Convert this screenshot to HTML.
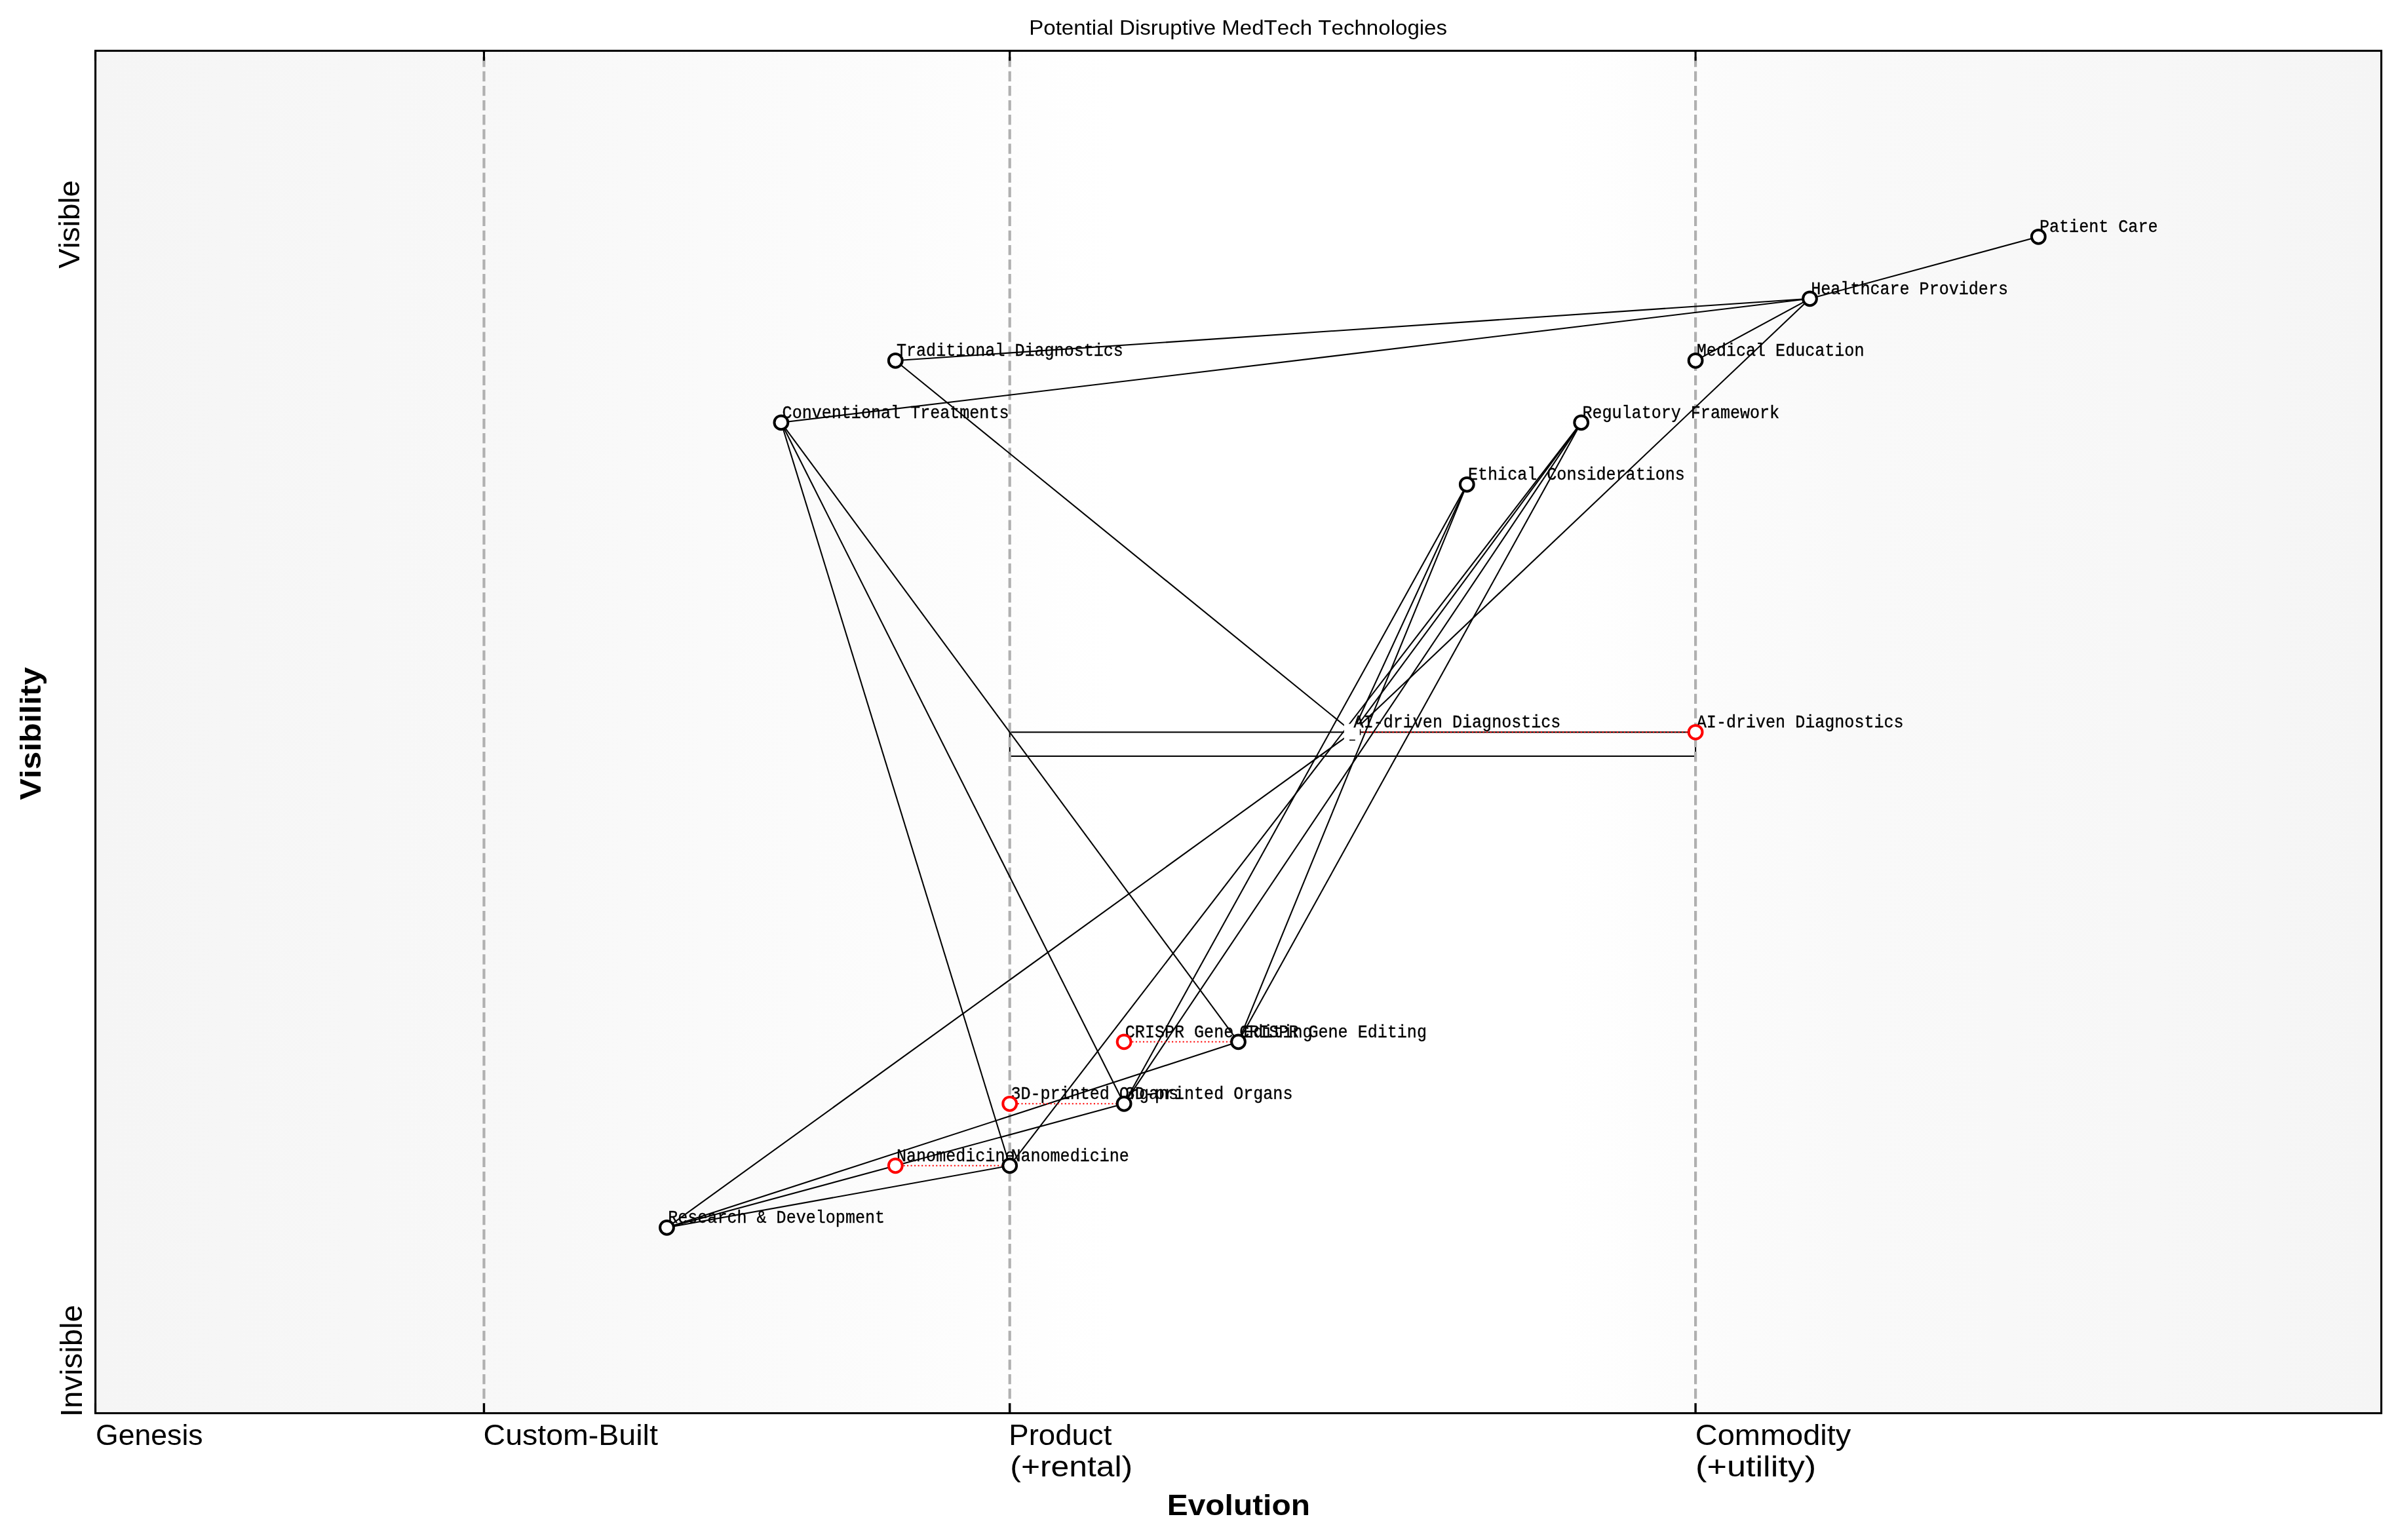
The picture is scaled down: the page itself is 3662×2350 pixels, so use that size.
<!DOCTYPE html><html><head><meta charset="utf-8"><style>html,body{margin:0;padding:0;background:#fff;width:3662px;height:2350px;overflow:hidden}svg{display:block;will-change:transform}text{font-kerning:none}</style></head><body>
<svg width="3662" height="2350" viewBox="0 0 3662 2350">
<defs><linearGradient id="bg" x1="0" y1="0" x2="1" y2="0">
<stop offset="0.000" stop-color="rgb(244.5,244.5,244.5)"/>
<stop offset="0.115" stop-color="rgb(246.5,246.5,246.5)"/>
<stop offset="0.200" stop-color="rgb(248.0,248.0,248.0)"/>
<stop offset="0.267" stop-color="rgb(250.0,250.0,250.0)"/>
<stop offset="0.352" stop-color="rgb(252.0,252.0,252.0)"/>
<stop offset="0.446" stop-color="rgb(254.5,254.5,254.5)"/>
<stop offset="0.500" stop-color="rgb(255.0,255.0,255.0)"/>
<stop offset="0.640" stop-color="rgb(255.0,255.0,255.0)"/>
<stop offset="0.676" stop-color="rgb(253.0,253.0,253.0)"/>
<stop offset="0.720" stop-color="rgb(251.0,251.0,251.0)"/>
<stop offset="0.769" stop-color="rgb(249.0,249.0,249.0)"/>
<stop offset="0.900" stop-color="rgb(246.5,246.5,246.5)"/>
<stop offset="1.000" stop-color="rgb(245.0,245.0,245.0)"/>
</linearGradient></defs>
<rect x="0" y="0" width="3662" height="2350" fill="#fff"/>
<rect x="145.60" y="77.50" width="3487.90" height="2079.00" fill="url(#bg)"/>
<rect x="1540.70" y="1117.30" width="1046.40" height="36.60" fill="none" stroke="#000" stroke-width="2.08"/>
<line x1="738.46" y1="2156.50" x2="738.46" y2="77.50" stroke="#b0b0b0" stroke-width="4.17" stroke-dasharray="15.42 6.67"/>
<line x1="1540.70" y1="2156.50" x2="1540.70" y2="77.50" stroke="#b0b0b0" stroke-width="4.17" stroke-dasharray="15.42 6.67"/>
<line x1="2587.10" y1="2156.50" x2="2587.10" y2="77.50" stroke="#b0b0b0" stroke-width="4.17" stroke-dasharray="15.42 6.67"/>
<text transform="matrix(1,0,0,1.0750,3112.00,354.30)" font-family="Liberation Mono" font-size="25.08" fill="#fff" stroke="#fff" stroke-width="1.6" stroke-linejoin="round">Patient Care</text>
<text transform="matrix(1,0,0,1.0750,2763.20,448.80)" font-family="Liberation Mono" font-size="25.08" fill="#fff" stroke="#fff" stroke-width="1.6" stroke-linejoin="round">Healthcare Providers</text>
<text transform="matrix(1,0,0,1.0750,2588.80,543.30)" font-family="Liberation Mono" font-size="25.08" fill="#fff" stroke="#fff" stroke-width="1.6" stroke-linejoin="round">Medical Education</text>
<text transform="matrix(1,0,0,1.0750,1368.00,543.30)" font-family="Liberation Mono" font-size="25.08" fill="#fff" stroke="#fff" stroke-width="1.6" stroke-linejoin="round">Traditional Diagnostics</text>
<text transform="matrix(1,0,0,1.0750,1193.60,637.80)" font-family="Liberation Mono" font-size="25.08" fill="#fff" stroke="#fff" stroke-width="1.6" stroke-linejoin="round">Conventional Treatments</text>
<text transform="matrix(1,0,0,1.0750,2414.40,637.80)" font-family="Liberation Mono" font-size="25.08" fill="#fff" stroke="#fff" stroke-width="1.6" stroke-linejoin="round">Regulatory Framework</text>
<text transform="matrix(1,0,0,1.0750,2240.00,732.30)" font-family="Liberation Mono" font-size="25.08" fill="#fff" stroke="#fff" stroke-width="1.6" stroke-linejoin="round">Ethical Considerations</text>
<text transform="matrix(1,0,0,1.0750,2065.60,1110.30)" font-family="Liberation Mono" font-size="25.08" fill="#fff" stroke="#fff" stroke-width="1.6" stroke-linejoin="round">AI-driven Diagnostics</text>
<text transform="matrix(1,0,0,1.0750,1891.20,1582.80)" font-family="Liberation Mono" font-size="25.08" fill="#fff" stroke="#fff" stroke-width="1.6" stroke-linejoin="round">CRISPR Gene Editing</text>
<text transform="matrix(1,0,0,1.0750,1716.80,1677.30)" font-family="Liberation Mono" font-size="25.08" fill="#fff" stroke="#fff" stroke-width="1.6" stroke-linejoin="round">3D-printed Organs</text>
<text transform="matrix(1,0,0,1.0750,1542.40,1771.80)" font-family="Liberation Mono" font-size="25.08" fill="#fff" stroke="#fff" stroke-width="1.6" stroke-linejoin="round">Nanomedicine</text>
<text transform="matrix(1,0,0,1.0750,1019.20,1866.30)" font-family="Liberation Mono" font-size="25.08" fill="#fff" stroke="#fff" stroke-width="1.6" stroke-linejoin="round">Research &amp; Development</text>
<text transform="matrix(1,0,0,1.0750,2588.80,1110.30)" font-family="Liberation Mono" font-size="25.08" fill="#fff" stroke="#fff" stroke-width="1.6" stroke-linejoin="round">AI-driven Diagnostics</text>
<text transform="matrix(1,0,0,1.0750,1716.80,1582.80)" font-family="Liberation Mono" font-size="25.08" fill="#fff" stroke="#fff" stroke-width="1.6" stroke-linejoin="round">CRISPR Gene Editing</text>
<text transform="matrix(1,0,0,1.0750,1542.40,1677.30)" font-family="Liberation Mono" font-size="25.08" fill="#fff" stroke="#fff" stroke-width="1.6" stroke-linejoin="round">3D-printed Organs</text>
<text transform="matrix(1,0,0,1.0750,1368.00,1771.80)" font-family="Liberation Mono" font-size="25.08" fill="#fff" stroke="#fff" stroke-width="1.6" stroke-linejoin="round">Nanomedicine</text>
<text transform="matrix(1,0,0,1.0750,3112.00,354.30)" font-family="Liberation Mono" font-size="25.08" fill="#000" stroke="#000" stroke-width="0.35">Patient Care</text>
<text transform="matrix(1,0,0,1.0750,2763.20,448.80)" font-family="Liberation Mono" font-size="25.08" fill="#000" stroke="#000" stroke-width="0.35">Healthcare Providers</text>
<text transform="matrix(1,0,0,1.0750,2588.80,543.30)" font-family="Liberation Mono" font-size="25.08" fill="#000" stroke="#000" stroke-width="0.35">Medical Education</text>
<text transform="matrix(1,0,0,1.0750,1368.00,543.30)" font-family="Liberation Mono" font-size="25.08" fill="#000" stroke="#000" stroke-width="0.35">Traditional Diagnostics</text>
<text transform="matrix(1,0,0,1.0750,1193.60,637.80)" font-family="Liberation Mono" font-size="25.08" fill="#000" stroke="#000" stroke-width="0.35">Conventional Treatments</text>
<text transform="matrix(1,0,0,1.0750,2414.40,637.80)" font-family="Liberation Mono" font-size="25.08" fill="#000" stroke="#000" stroke-width="0.35">Regulatory Framework</text>
<text transform="matrix(1,0,0,1.0750,2240.00,732.30)" font-family="Liberation Mono" font-size="25.08" fill="#000" stroke="#000" stroke-width="0.35">Ethical Considerations</text>
<text transform="matrix(1,0,0,1.0750,2065.60,1110.30)" font-family="Liberation Mono" font-size="25.08" fill="#000" stroke="#000" stroke-width="0.35">AI-driven Diagnostics</text>
<text transform="matrix(1,0,0,1.0750,1891.20,1582.80)" font-family="Liberation Mono" font-size="25.08" fill="#000" stroke="#000" stroke-width="0.35">CRISPR Gene Editing</text>
<text transform="matrix(1,0,0,1.0750,1716.80,1677.30)" font-family="Liberation Mono" font-size="25.08" fill="#000" stroke="#000" stroke-width="0.35">3D-printed Organs</text>
<text transform="matrix(1,0,0,1.0750,1542.40,1771.80)" font-family="Liberation Mono" font-size="25.08" fill="#000" stroke="#000" stroke-width="0.35">Nanomedicine</text>
<text transform="matrix(1,0,0,1.0750,1019.20,1866.30)" font-family="Liberation Mono" font-size="25.08" fill="#000" stroke="#000" stroke-width="0.35">Research &amp; Development</text>
<text transform="matrix(1,0,0,1.0750,2588.80,1110.30)" font-family="Liberation Mono" font-size="25.08" fill="#000" stroke="#000" stroke-width="0.35">AI-driven Diagnostics</text>
<text transform="matrix(1,0,0,1.0750,1716.80,1582.80)" font-family="Liberation Mono" font-size="25.08" fill="#000" stroke="#000" stroke-width="0.35">CRISPR Gene Editing</text>
<text transform="matrix(1,0,0,1.0750,1542.40,1677.30)" font-family="Liberation Mono" font-size="25.08" fill="#000" stroke="#000" stroke-width="0.35">3D-printed Organs</text>
<text transform="matrix(1,0,0,1.0750,1368.00,1771.80)" font-family="Liberation Mono" font-size="25.08" fill="#000" stroke="#000" stroke-width="0.35">Nanomedicine</text>
<line x1="3110.30" y1="361.30" x2="2761.50" y2="455.80" stroke="#000" stroke-width="2.08"/>
<line x1="2761.50" y1="455.80" x2="1366.30" y2="550.30" stroke="#000" stroke-width="2.08"/>
<line x1="2761.50" y1="455.80" x2="1191.90" y2="644.80" stroke="#000" stroke-width="2.08"/>
<line x1="2761.50" y1="455.80" x2="2587.10" y2="550.30" stroke="#000" stroke-width="2.08"/>
<line x1="2761.50" y1="455.80" x2="2063.90" y2="1117.30" stroke="#000" stroke-width="2.08"/>
<line x1="1366.30" y1="550.30" x2="2063.90" y2="1117.30" stroke="#000" stroke-width="2.08"/>
<line x1="1191.90" y1="644.80" x2="1540.70" y2="1778.80" stroke="#000" stroke-width="2.08"/>
<line x1="1191.90" y1="644.80" x2="1715.10" y2="1684.30" stroke="#000" stroke-width="2.08"/>
<line x1="1191.90" y1="644.80" x2="1889.50" y2="1589.80" stroke="#000" stroke-width="2.08"/>
<line x1="2412.70" y1="644.80" x2="1889.50" y2="1589.80" stroke="#000" stroke-width="2.08"/>
<line x1="2412.70" y1="644.80" x2="1715.10" y2="1684.30" stroke="#000" stroke-width="2.08"/>
<line x1="2412.70" y1="644.80" x2="1540.70" y2="1778.80" stroke="#000" stroke-width="2.08"/>
<line x1="2412.70" y1="644.80" x2="2063.90" y2="1117.30" stroke="#000" stroke-width="2.08"/>
<line x1="2238.30" y1="739.30" x2="2063.90" y2="1117.30" stroke="#000" stroke-width="2.08"/>
<line x1="2238.30" y1="739.30" x2="1889.50" y2="1589.80" stroke="#000" stroke-width="2.08"/>
<line x1="2238.30" y1="739.30" x2="1715.10" y2="1684.30" stroke="#000" stroke-width="2.08"/>
<line x1="1017.50" y1="1873.30" x2="2063.90" y2="1117.30" stroke="#000" stroke-width="2.08"/>
<line x1="1017.50" y1="1873.30" x2="1889.50" y2="1589.80" stroke="#000" stroke-width="2.08"/>
<line x1="1017.50" y1="1873.30" x2="1715.10" y2="1684.30" stroke="#000" stroke-width="2.08"/>
<line x1="1017.50" y1="1873.30" x2="1540.70" y2="1778.80" stroke="#000" stroke-width="2.08"/>
<line x1="2063.90" y1="1117.30" x2="2587.10" y2="1117.30" stroke="#ff0000" stroke-width="2.08" stroke-dasharray="2.08 3.44"/>
<line x1="1889.50" y1="1589.80" x2="1715.10" y2="1589.80" stroke="#ff0000" stroke-width="2.08" stroke-dasharray="2.08 3.44"/>
<line x1="1715.10" y1="1684.30" x2="1540.70" y2="1684.30" stroke="#ff0000" stroke-width="2.08" stroke-dasharray="2.08 3.44"/>
<line x1="1540.70" y1="1778.80" x2="1366.30" y2="1778.80" stroke="#ff0000" stroke-width="2.08" stroke-dasharray="2.08 3.44"/>
<rect x="2050.8" y="1104.6" width="24.7" height="25.0" fill="#fff"/>
<rect x="2059" y="1128.6" width="8.8" height="1.6" fill="#000"/>
<rect x="2074.8" y="1112.7" width="1.5" height="9.1" fill="#000"/>
<clipPath id="cp"><rect x="2050.8" y="1104.6" width="24.7" height="25.0"/></clipPath>
<g clip-path="url(#cp)">
<text transform="matrix(1,0,0,1.0750,2065.60,1110.30)" font-family="Liberation Mono" font-size="25.08" fill="#000" stroke="#000" stroke-width="0.35">AI-driven Diagnostics</text>
</g>
<circle cx="3110.30" cy="361.30" r="10.40" fill="#fff" stroke="#000" stroke-width="4.00"/>
<circle cx="2761.50" cy="455.80" r="10.40" fill="#fff" stroke="#000" stroke-width="4.00"/>
<circle cx="2587.10" cy="550.30" r="10.40" fill="#fff" stroke="#000" stroke-width="4.00"/>
<circle cx="1366.30" cy="550.30" r="10.40" fill="#fff" stroke="#000" stroke-width="4.00"/>
<circle cx="1191.90" cy="644.80" r="10.40" fill="#fff" stroke="#000" stroke-width="4.00"/>
<circle cx="2412.70" cy="644.80" r="10.40" fill="#fff" stroke="#000" stroke-width="4.00"/>
<circle cx="2238.30" cy="739.30" r="10.40" fill="#fff" stroke="#000" stroke-width="4.00"/>
<circle cx="1889.50" cy="1589.80" r="10.40" fill="#fff" stroke="#000" stroke-width="4.00"/>
<circle cx="1715.10" cy="1684.30" r="10.40" fill="#fff" stroke="#000" stroke-width="4.00"/>
<circle cx="1540.70" cy="1778.80" r="10.40" fill="#fff" stroke="#000" stroke-width="4.00"/>
<circle cx="1017.50" cy="1873.30" r="10.40" fill="#fff" stroke="#000" stroke-width="4.00"/>
<circle cx="2587.10" cy="1117.30" r="10.40" fill="#fff" stroke="#ff0000" stroke-width="4.00"/>
<circle cx="1715.10" cy="1589.80" r="10.40" fill="#fff" stroke="#ff0000" stroke-width="4.00"/>
<circle cx="1540.70" cy="1684.30" r="10.40" fill="#fff" stroke="#ff0000" stroke-width="4.00"/>
<circle cx="1366.30" cy="1778.80" r="10.40" fill="#fff" stroke="#ff0000" stroke-width="4.00"/>
<rect x="145.60" y="77.50" width="3487.90" height="2079.00" fill="none" stroke="#000" stroke-width="3.1"/>
<line x1="145.50" y1="77.50" x2="145.50" y2="92.70" stroke="#000" stroke-width="3.1"/>
<line x1="145.50" y1="2156.50" x2="145.50" y2="2141.30" stroke="#000" stroke-width="3.1"/>
<line x1="738.46" y1="77.50" x2="738.46" y2="92.70" stroke="#000" stroke-width="3.1"/>
<line x1="738.46" y1="2156.50" x2="738.46" y2="2141.30" stroke="#000" stroke-width="3.1"/>
<line x1="1540.70" y1="77.50" x2="1540.70" y2="92.70" stroke="#000" stroke-width="3.1"/>
<line x1="1540.70" y1="2156.50" x2="1540.70" y2="2141.30" stroke="#000" stroke-width="3.1"/>
<line x1="2587.10" y1="77.50" x2="2587.10" y2="92.70" stroke="#000" stroke-width="3.1"/>
<line x1="2587.10" y1="2156.50" x2="2587.10" y2="2141.30" stroke="#000" stroke-width="3.1"/>
<text transform="matrix(0.82710,0.00000,0.00000,0.80307,1570.19,52.90)" font-family="Liberation Sans" font-weight="normal" font-size="40.0" fill="#000">Potential Disruptive MedTech Technologies</text>
<text transform="matrix(1.11494,0.00000,0.00000,1.12284,146.01,2204.90)" font-family="Liberation Sans" font-weight="normal" font-size="40.0" fill="#000">Genesis</text>
<text transform="matrix(1.16362,0.00000,0.00000,1.12284,737.54,2204.90)" font-family="Liberation Sans" font-weight="normal" font-size="40.0" fill="#000">Custom-Built</text>
<text transform="matrix(1.13943,0.00000,0.00000,1.12284,1539.26,2204.90)" font-family="Liberation Sans" font-weight="normal" font-size="40.0" fill="#000">Product</text>
<text transform="matrix(1.24537,0.00000,0.00000,1.13164,1541.31,2252.90)" font-family="Liberation Sans" font-weight="normal" font-size="40.0" fill="#000">(+rental)</text>
<text transform="matrix(1.17458,0.00000,0.00000,1.13164,2586.81,2204.70)" font-family="Liberation Sans" font-weight="normal" font-size="40.0" fill="#000">Commodity</text>
<text transform="matrix(1.30497,0.00000,0.00000,1.13164,2587.06,2252.70)" font-family="Liberation Sans" font-weight="normal" font-size="40.0" fill="#000">(+utility)</text>
<text transform="matrix(1.19740,0.00000,0.00000,1.13164,1780.80,2311.80)" font-family="Liberation Sans" font-weight="bold" font-size="40.0" fill="#000">Evolution</text>
<text transform="matrix(0.00000,-1.14344,1.12819,0.00000,120.90,409.80)" font-family="Liberation Sans" font-weight="normal" font-size="40.0" fill="#000">Visible</text>
<text transform="matrix(0.00000,-1.18381,1.14199,0.00000,125.10,2162.17)" font-family="Liberation Sans" font-weight="normal" font-size="40.0" fill="#000">Invisible</text>
<text transform="matrix(0.00000,-1.23229,1.11957,0.00000,61.80,1220.84)" font-family="Liberation Sans" font-weight="bold" font-size="40.0" fill="#000">Visibility</text>
</svg></body></html>
